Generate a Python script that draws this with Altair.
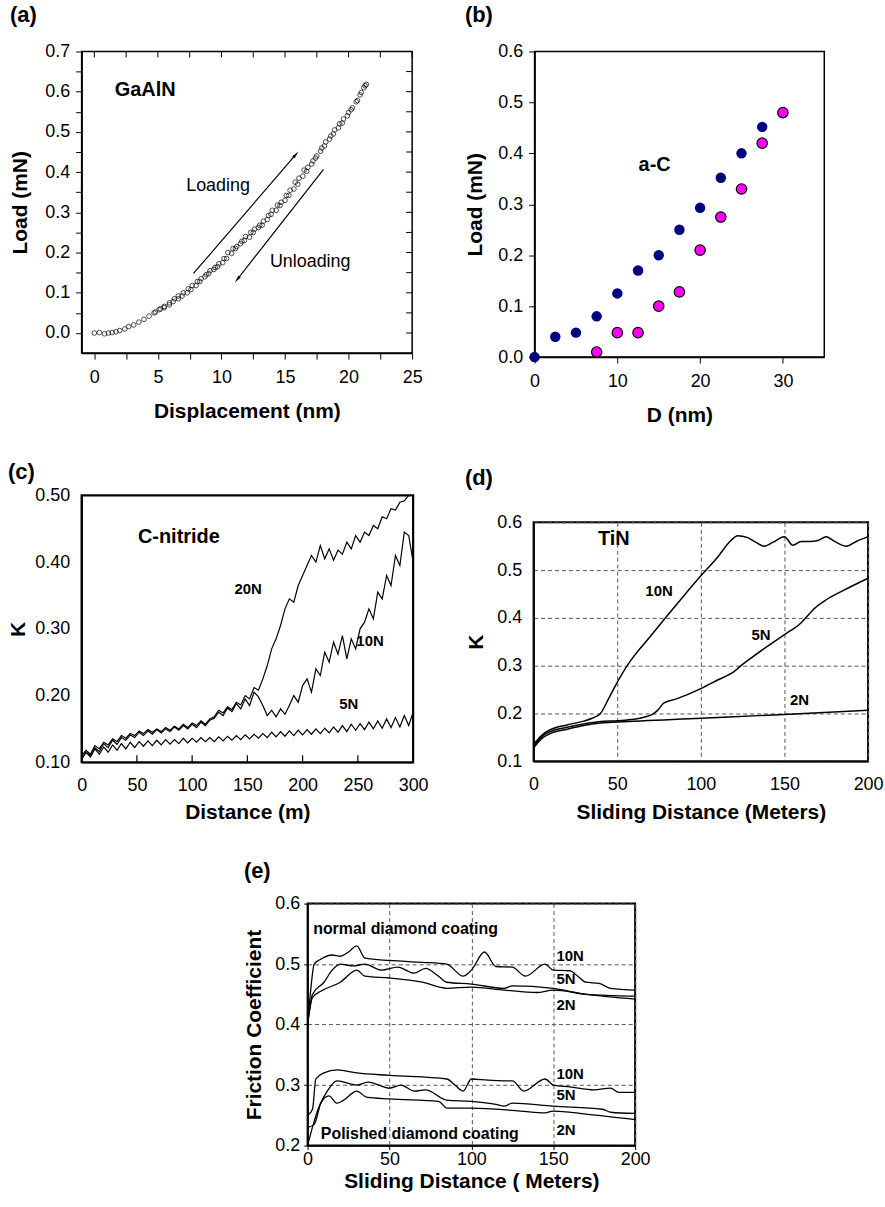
import altair as alt
import pandas as pd

FONT = "Liberation Sans"

# ---------------- (a) GaAlN load-displacement ----------------
A_LOAD_X = [0.0, 0.4, 0.8, 1.1, 1.4, 1.7, 2.0, 2.4, 2.7, 3.1, 3.5, 3.9, 4.3, 4.7, 5.1, 5.5, 5.9, 6.3, 6.6, 7.0,
            7.4, 7.7, 8.1, 8.4, 8.8, 9.1, 9.5, 9.8, 10.2, 10.5, 10.9, 11.2, 11.6, 11.9, 12.3, 12.6, 13.0, 13.3, 13.7, 14.0,
            14.4, 14.7, 15.1, 15.4, 15.8, 16.1, 16.5, 16.8, 17.2, 17.5, 17.9, 18.2, 18.6, 18.9, 19.3, 19.6, 20.0, 20.3, 20.7, 21.0, 21.3]
A_LOAD_Y = [0.000, 0.001, -0.002, 0.000, 0.001, 0.003, 0.006, 0.010, 0.016, 0.020, 0.027, 0.034, 0.042, 0.050, 0.058, 0.066, 0.075, 0.085, 0.092, 0.100,
            0.110, 0.118, 0.128, 0.135, 0.145, 0.155, 0.163, 0.172, 0.185, 0.200, 0.210, 0.215, 0.228, 0.240, 0.250, 0.258, 0.268, 0.278, 0.292, 0.305,
            0.318, 0.325, 0.342, 0.355, 0.375, 0.385, 0.405, 0.412, 0.428, 0.440, 0.460, 0.475, 0.490, 0.505, 0.520, 0.532, 0.548, 0.560, 0.578, 0.598, 0.615]
A_UNLOAD_X = [21.4, 21.2, 20.9, 20.6, 20.2, 19.9, 19.5, 19.2, 18.8, 18.5, 18.1, 17.8, 17.4, 17.1, 16.7, 16.4, 16.0, 15.7, 15.3, 15.0,
              14.6, 14.3, 13.9, 13.6, 13.2, 12.9, 12.5, 12.2, 11.8, 11.5, 11.1, 10.8, 10.4, 10.1, 9.7, 9.4, 9.0, 8.7, 8.3, 8.0,
              7.6, 7.3, 6.9, 6.6, 6.2, 5.9, 5.5, 5.2, 4.8]
A_UNLOAD_Y = [0.618, 0.610, 0.592, 0.575, 0.555, 0.540, 0.522, 0.510, 0.495, 0.482, 0.465, 0.452, 0.435, 0.420, 0.402, 0.390, 0.370, 0.358, 0.342, 0.330,
              0.317, 0.305, 0.295, 0.282, 0.268, 0.262, 0.250, 0.238, 0.230, 0.222, 0.210, 0.198, 0.185, 0.175, 0.165, 0.158, 0.148, 0.140, 0.128, 0.118,
              0.108, 0.100, 0.092, 0.085, 0.078, 0.070, 0.063, 0.060, 0.052]
A_XTICKS = [0, 2.5, 5, 7.5, 10, 12.5, 15, 17.5, 20, 22.5, 25]
A_YTICKS = [0.0, 0.05, 0.1, 0.15, 0.2, 0.25, 0.3, 0.35, 0.4, 0.45, 0.5, 0.55, 0.6, 0.65, 0.7]
A_ARROW_LOAD_X = [7.8, 15.86]
A_ARROW_LOAD_Y = [0.148, 0.444]
A_ARROW_UNLOAD_X = [18.03, 11.24]
A_ARROW_UNLOAD_Y = [0.407, 0.133]
A_BOLD_TEXT = ["GaAlN"]
A_BOLD_X = [4.0]
A_BOLD_Y = [0.604]
A_TEXT = ["Loading", "Unloading"]
A_TEXT_X = [9.73, 16.98]
A_TEXT_Y = [0.366, 0.177]

# ---------------- (b) a-C ----------------
B_BLUE_X = [0, 2.5, 5, 7.5, 10, 12.5, 15, 17.5, 20, 22.5, 25, 27.5]
B_BLUE_Y = [0.0, 0.04, 0.048, 0.08, 0.125, 0.17, 0.2, 0.25, 0.293, 0.352, 0.4, 0.452]
B_PINK_X = [7.5, 10, 12.5, 15, 17.5, 20, 22.5, 25, 27.5, 30]
B_PINK_Y = [0.01, 0.048, 0.048, 0.1, 0.128, 0.21, 0.275, 0.33, 0.42, 0.48]
B_TEXT = ["a-C"]
B_TEXT_X = [14.5]
B_TEXT_Y = [0.377]

# ---------------- (c) C-nitride ----------------
C_X = [0, 4, 8, 12, 16, 20, 24, 28, 32, 36, 40, 44, 48, 52, 56, 60, 64, 68, 72, 76,
       80, 84, 88, 92, 96, 100, 104, 108, 112, 116, 120, 124, 128, 132, 136, 140, 144, 148, 152, 156,
       160, 164, 168, 172, 176, 180, 184, 188, 192, 196, 200, 204, 208, 212, 216, 220, 224, 228, 232, 236,
       240, 244, 248, 252, 256, 260, 264, 268, 272, 276, 280, 284, 288, 292, 296, 300]
C_20N = [0.110, 0.118, 0.112, 0.125, 0.120, 0.130, 0.126, 0.135, 0.131, 0.140,
         0.136, 0.143, 0.140, 0.147, 0.143, 0.149, 0.145, 0.150, 0.146, 0.152,
         0.148, 0.154, 0.150, 0.157, 0.152, 0.159, 0.155, 0.162, 0.157, 0.165,
         0.168, 0.178, 0.174, 0.183, 0.179, 0.190, 0.186, 0.200, 0.195, 0.212,
         0.208, 0.225, 0.245, 0.270, 0.285, 0.305, 0.330, 0.345, 0.340, 0.365,
         0.380, 0.395, 0.410, 0.400, 0.425, 0.405, 0.420, 0.403, 0.418, 0.412,
         0.430, 0.420, 0.440, 0.430, 0.445, 0.440, 0.455, 0.450, 0.468, 0.465,
         0.480, 0.478, 0.490, 0.492, 0.500, 0.508]
C_10N = [0.105, 0.115, 0.110, 0.122, 0.116, 0.128, 0.122, 0.133, 0.127, 0.137,
         0.133, 0.141, 0.137, 0.145, 0.140, 0.147, 0.142, 0.149, 0.144, 0.150,
         0.146, 0.153, 0.148, 0.155, 0.150, 0.157, 0.152, 0.160, 0.155, 0.163,
         0.166, 0.175, 0.170, 0.181, 0.176, 0.188, 0.180, 0.195, 0.185, 0.205,
         0.198, 0.185, 0.170, 0.178, 0.168, 0.180, 0.172, 0.185, 0.200, 0.190,
         0.215, 0.225, 0.205, 0.240, 0.230, 0.265, 0.250, 0.280, 0.262, 0.290,
         0.255, 0.285, 0.270, 0.300, 0.310, 0.330, 0.315, 0.355, 0.345, 0.380,
         0.365, 0.410, 0.395, 0.445, 0.440, 0.400]
C_5N = [0.105, 0.115, 0.108, 0.120, 0.112, 0.123, 0.115, 0.126, 0.118, 0.128,
        0.120, 0.130, 0.122, 0.131, 0.124, 0.132, 0.125, 0.133, 0.126, 0.134,
        0.127, 0.134, 0.128, 0.136, 0.129, 0.136, 0.130, 0.137, 0.131, 0.137,
        0.131, 0.138, 0.132, 0.139, 0.133, 0.140, 0.134, 0.141, 0.135, 0.142,
        0.136, 0.143, 0.137, 0.145, 0.138, 0.146, 0.139, 0.147, 0.140, 0.148,
        0.141, 0.149, 0.142, 0.150, 0.143, 0.151, 0.144, 0.153, 0.145, 0.155,
        0.146, 0.157, 0.148, 0.158, 0.149, 0.160, 0.150, 0.162, 0.151, 0.165,
        0.152, 0.167, 0.153, 0.170, 0.155, 0.175]
C_INNER_TICKS = [50, 100, 150, 200, 250]
C_BOLD_TEXT = ["C-nitride"]
C_BOLD_X = [88]
C_BOLD_Y = [0.438]
C_LOAD_TEXT = ["20N", "10N", "5N"]
C_LOAD_X = [150.7, 261, 241.7]
C_LOAD_Y = [0.36, 0.282, 0.187]

# ---------------- (d) TiN ----------------
D_10N_X = [0, 5, 10, 20, 30, 35, 40, 45, 50, 55, 60, 70, 80, 90, 100, 110, 118, 122, 128, 133,
           138, 143, 150, 155, 160, 165, 170, 175, 180, 187, 193, 200]
D_10N_Y = [0.135, 0.155, 0.166, 0.176, 0.184, 0.19, 0.2, 0.232, 0.265, 0.295, 0.32, 0.362, 0.405, 0.447, 0.488, 0.527, 0.562, 0.572, 0.568, 0.558,
           0.55, 0.558, 0.57, 0.552, 0.56, 0.56, 0.562, 0.57, 0.56, 0.55, 0.56, 0.57]
D_5N_X = [0, 5, 10, 20, 30, 40, 50, 60, 66, 71, 74, 78, 85, 100, 110, 120, 124, 130, 140, 150,
          160, 164, 168, 175, 185, 200]
D_5N_Y = [0.13, 0.152, 0.162, 0.171, 0.178, 0.183, 0.185, 0.188, 0.192, 0.198, 0.206, 0.222, 0.23, 0.252, 0.27, 0.288, 0.30, 0.316, 0.341, 0.365,
          0.39, 0.405, 0.42, 0.438, 0.457, 0.483]
D_2N_X = [0, 5, 10, 20, 30, 40, 50, 100, 150, 200]
D_2N_Y = [0.128, 0.148, 0.158, 0.167, 0.175, 0.18, 0.182, 0.19, 0.198, 0.207]
D_BOLD_TEXT = ["TiN"]
D_BOLD_X = [48]
D_BOLD_Y = [0.565]
D_LOAD_TEXT = ["10N", "5N", "2N"]
D_LOAD_X = [75, 136, 159]
D_LOAD_Y = [0.456, 0.364, 0.228]

# ---------------- (e) diamond coatings ----------------
E_N10_X = [0, 2, 4, 8, 15, 20, 25, 30, 35, 50, 70, 85, 95, 100, 108, 115, 125, 133, 145, 150, 160, 165, 170, 178, 185, 200]
E_N10_Y = [0.40, 0.46, 0.50, 0.508, 0.515, 0.513, 0.52, 0.53, 0.51, 0.506, 0.503, 0.50, 0.48, 0.49, 0.52, 0.496, 0.495, 0.48, 0.50, 0.49, 0.489, 0.48, 0.47, 0.468, 0.46, 0.457]
E_N5_X = [0, 3, 10, 15, 20, 28, 35, 45, 55, 65, 72, 80, 85, 100, 120, 125, 150, 160, 170, 200]
E_N5_Y = [0.40, 0.45, 0.47, 0.49, 0.50, 0.497, 0.50, 0.49, 0.495, 0.485, 0.493, 0.48, 0.47, 0.467, 0.46, 0.464, 0.46, 0.455, 0.45, 0.447]
E_N2_X = [0, 3, 8, 20, 30, 35, 50, 70, 85, 100, 120, 140, 150, 170, 200]
E_N2_Y = [0.40, 0.445, 0.455, 0.47, 0.49, 0.48, 0.477, 0.47, 0.46, 0.462, 0.457, 0.453, 0.457, 0.45, 0.442]
E_P10_X = [0, 3, 5, 10, 18, 30, 50, 85, 90, 95, 100, 110, 120, 125, 132, 145, 150, 160, 175, 185, 190, 200]
E_P10_Y = [0.25, 0.26, 0.31, 0.32, 0.325, 0.32, 0.316, 0.31, 0.30, 0.29, 0.31, 0.308, 0.307, 0.307, 0.29, 0.31, 0.30, 0.297, 0.292, 0.295, 0.288, 0.288]
E_P5_X = [0, 4, 8, 12, 18, 30, 37, 50, 57, 65, 72, 85, 100, 115, 120, 125, 150, 180, 185, 200]
E_P5_Y = [0.23, 0.235, 0.27, 0.29, 0.307, 0.30, 0.305, 0.295, 0.30, 0.29, 0.292, 0.275, 0.273, 0.268, 0.265, 0.27, 0.265, 0.26, 0.255, 0.253]
E_P2_X = [0, 4, 8, 13, 18, 22, 30, 36, 50, 80, 85, 100, 130, 145, 150, 170, 200]
E_P2_Y = [0.20, 0.24, 0.27, 0.282, 0.27, 0.275, 0.29, 0.28, 0.277, 0.273, 0.262, 0.262, 0.257, 0.254, 0.257, 0.252, 0.243]
E_COAT_TEXT = ["normal diamond coating", "Polished diamond coating"]
E_COAT_X = [3.4, 8.1]
E_COAT_Y = [0.558, 0.219]
E_LOAD_TEXT = ["10N", "5N", "2N", "10N", "5N", "2N"]
E_LOAD_X = [152, 152, 152, 152, 152, 152]
E_LOAD_Y = [0.513, 0.476, 0.433, 0.318, 0.284, 0.226]

TRANSPARENT = alt.ViewBackground(stroke="transparent")


def series_df(xs, ys, name):
    return pd.DataFrame({"x": xs, "y": ys, "s": [name] * len(xs)})


def text_layer(xe, ye, texts, xs, ys, size, bold=True, align="center"):
    df = pd.DataFrame({"x": xs, "y": ys, "t": texts})
    return alt.Chart(df).mark_text(font=FONT, fontSize=size, fontWeight="bold" if bold else "normal",
                                   color="black", align=align, baseline="middle").encode(x=xe, y=ye, text="t:N")


def blank(w, h):
    return alt.Chart(pd.DataFrame({"x": [0]})).mark_point(opacity=0).encode(
        x=alt.X("x:Q", axis=None), y=alt.Y("x:Q", axis=None)
    ).properties(width=w, height=h, view=TRANSPARENT)


# ---------- panel (a) ----------
AW, AH = 332, 303
xa = alt.X("x:Q", scale=alt.Scale(domain=[-1, 25], nice=False, zero=False),
           axis=alt.Axis(title="Displacement (nm)", values=A_XTICKS,
                         labelExpr="datum.value % 5 == 0 ? datum.label : ''",
                         tickSize=6, labelPadding=10, titlePadding=14, labelFlush=False))
ya = alt.Y("y:Q", scale=alt.Scale(domain=[-0.05, 0.7], nice=False, zero=False),
           axis=alt.Axis(title="Load (mN)", values=A_YTICKS,
                         labelExpr="round(datum.value * 100) % 10 == 0 ? format(datum.value, '.1f') : ''",
                         tickSize=6, labelPadding=6, titlePadding=14))
a_pts = alt.Chart(pd.concat([series_df(A_LOAD_X, A_LOAD_Y, "load"), series_df(A_UNLOAD_X, A_UNLOAD_Y, "unload")])) \
    .mark_point(shape="circle", filled=False, size=22, color="black", strokeWidth=1).encode(x=xa, y=ya)
a_arr = alt.Chart(pd.concat([series_df(A_ARROW_LOAD_X, A_ARROW_LOAD_Y, "l"), series_df(A_ARROW_UNLOAD_X, A_ARROW_UNLOAD_Y, "u")])) \
    .mark_line(color="black", strokeWidth=1.2).encode(x=xa, y=ya, detail="s:N")
HEAD = "M0,-1L0.4,1L-0.4,1Z"
a_head1 = alt.Chart(series_df(A_ARROW_LOAD_X[1:], A_ARROW_LOAD_Y[1:], "l")).mark_point(
    shape=HEAD, filled=True, color="black", size=60, angle=41, opacity=1).encode(x=xa, y=ya)
a_head2 = alt.Chart(series_df(A_ARROW_UNLOAD_X[1:], A_ARROW_UNLOAD_Y[1:], "u")).mark_point(
    shape=HEAD, filled=True, color="black", size=60, angle=218, opacity=1).encode(x=xa, y=ya)
a_top = alt.Chart(pd.DataFrame({"x": A_XTICKS})).mark_rule(color="black", strokeWidth=1).encode(
    x=xa, y=alt.value(0), y2=alt.value(6))
a_right = alt.Chart(pd.DataFrame({"y": A_YTICKS})).mark_rule(color="black", strokeWidth=1).encode(
    y=ya, x=alt.value(AW - 6), x2=alt.value(AW))
panel_a = alt.layer(
    a_pts, a_arr, a_head1, a_head2, a_top, a_right,
    text_layer(xa, ya, A_BOLD_TEXT, A_BOLD_X, A_BOLD_Y, 20, True),
    text_layer(xa, ya, A_TEXT, A_TEXT_X, A_TEXT_Y, 18, False),
).properties(width=AW, height=AH, title=alt.TitleParams("(a)", offset=16))

# ---------- panel (b) ----------
BW, BH = 291, 307
xb = alt.X("x:Q", scale=alt.Scale(domain=[0, 35], nice=False),
           axis=alt.Axis(title="D (nm)", values=[0, 10, 20, 30], tickSize=6, labelPadding=10,
                         titlePadding=14, labelFlush=False))
yb = alt.Y("y:Q", scale=alt.Scale(domain=[0, 0.6], nice=False),
           axis=alt.Axis(title="Load (mN)", values=[0, 0.1, 0.2, 0.3, 0.4, 0.5, 0.6], format=".1f",
                         tickSize=6, labelPadding=6, titlePadding=12))
b_blue = alt.Chart(series_df(B_BLUE_X, B_BLUE_Y, "blue")).mark_point(
    shape="circle", filled=True, color="#000080", size=110, opacity=1).encode(x=xb, y=yb)
b_pink = alt.Chart(series_df(B_PINK_X, B_PINK_Y, "pink")).mark_point(
    shape="circle", filled=True, fill="#ff00ff", stroke="black", strokeWidth=1.2, size=110, opacity=1).encode(x=xb, y=yb)
panel_b = alt.layer(
    b_blue, b_pink, text_layer(xb, yb, B_TEXT, B_TEXT_X, B_TEXT_Y, 20, True)
).properties(width=BW, height=BH, title=alt.TitleParams("(b)", offset=16))

# ---------- panel (c) ----------
CW, CH = 333, 268
xc = alt.X("x:Q", scale=alt.Scale(domain=[0, 300], nice=False),
           axis=alt.Axis(title="Distance (m)", values=[0, 50, 100, 150, 200, 250, 300], ticks=False,
                         labelPadding=14, titlePadding=8, labelFlush=False))
yc = alt.Y("y:Q", scale=alt.Scale(domain=[0.1, 0.5], nice=False, zero=False),
           axis=alt.Axis(title="K", values=[0.1, 0.2, 0.3, 0.4, 0.5], format=".2f", ticks=False,
                         labelPadding=12, titlePadding=6))
c_lines = alt.Chart(pd.concat([series_df(C_X, C_20N, "20N"), series_df(C_X, C_10N, "10N"), series_df(C_X, C_5N, "5N")])) \
    .mark_line(color="black", strokeWidth=1.2, clip=True).encode(x=xc, y=yc, detail="s:N")
c_ticks = alt.Chart(pd.DataFrame({"x": C_INNER_TICKS})).mark_rule(color="black", strokeWidth=1.2).encode(
    x=xc, y=alt.value(CH), y2=alt.value(CH - 7))
panel_c = alt.layer(
    c_lines, c_ticks,
    text_layer(xc, yc, C_BOLD_TEXT, C_BOLD_X, C_BOLD_Y, 20, True),
    text_layer(xc, yc, C_LOAD_TEXT, C_LOAD_X, C_LOAD_Y, 15, True),
).properties(width=CW, height=CH, title=alt.TitleParams("(c)", offset=3),
             view=alt.ViewBackground(stroke="black", strokeWidth=2.2))

# ---------- panel (d) ----------
DW, DH = 336, 240
GRID = dict(grid=True, gridDash=[4, 3], gridColor="#555555", gridWidth=1)
xd = alt.X("x:Q", scale=alt.Scale(domain=[0, 200], nice=False),
           axis=alt.Axis(title="Sliding Distance (Meters)", values=[0, 50, 100, 150, 200], ticks=False,
                         labelPadding=14, titlePadding=8, labelFlush=False, **GRID))
yd = alt.Y("y:Q", scale=alt.Scale(domain=[0.1, 0.6], nice=False, zero=False),
           axis=alt.Axis(title="K", values=[0.1, 0.2, 0.3, 0.4, 0.5, 0.6], format=".1f", ticks=False,
                         labelPadding=12, titlePadding=10, **GRID))
d_lines = alt.Chart(pd.concat([series_df(D_10N_X, D_10N_Y, "10N"), series_df(D_5N_X, D_5N_Y, "5N"), series_df(D_2N_X, D_2N_Y, "2N")])) \
    .mark_line(color="black", strokeWidth=1.5, interpolate="monotone").encode(x=xd, y=yd, detail="s:N")
panel_d = alt.layer(
    d_lines,
    text_layer(xd, yd, D_BOLD_TEXT, D_BOLD_X, D_BOLD_Y, 20, True),
    text_layer(xd, yd, D_LOAD_TEXT, D_LOAD_X, D_LOAD_Y, 15, True),
).properties(width=DW, height=DH, view=alt.ViewBackground(stroke="black", strokeWidth=2))
d_col = alt.vconcat(blank(DW, 1), panel_d, spacing=13, title=alt.TitleParams("(d)", offset=3))

# ---------- panel (e) ----------
EW, EH = 329, 243
xe = alt.X("x:Q", scale=alt.Scale(domain=[0, 200], nice=False),
           axis=alt.Axis(title="Sliding Distance ( Meters)", values=[0, 50, 100, 150, 200], tickSize=4,
                         labelPadding=1, titlePadding=2, labelFlush=False, **GRID))
ye = alt.Y("y:Q", scale=alt.Scale(domain=[0.2, 0.6], nice=False, zero=False),
           axis=alt.Axis(title="Friction Coefficient", values=[0.2, 0.3, 0.4, 0.5, 0.6], format=".1f", tickSize=4,
                         labelPadding=4, titlePadding=10, **GRID))
e_lines = alt.Chart(pd.concat([
    series_df(E_N10_X, E_N10_Y, "n10"), series_df(E_N5_X, E_N5_Y, "n5"), series_df(E_N2_X, E_N2_Y, "n2"),
    series_df(E_P10_X, E_P10_Y, "p10"), series_df(E_P5_X, E_P5_Y, "p5"), series_df(E_P2_X, E_P2_Y, "p2")])) \
    .mark_line(color="black", strokeWidth=1.3, interpolate="monotone").encode(x=xe, y=ye, detail="s:N")
panel_e = alt.layer(
    e_lines,
    text_layer(xe, ye, E_COAT_TEXT, E_COAT_X, E_COAT_Y, 16, True, align="left"),
    text_layer(xe, ye, E_LOAD_TEXT, E_LOAD_X, E_LOAD_Y, 15, True, align="left"),
).properties(width=EW, height=EH, title=alt.TitleParams("(e)", offset=12),
             view=alt.ViewBackground(stroke="black", strokeWidth=2))

row1 = alt.hconcat(panel_a, panel_b, spacing=41)
row2 = alt.hconcat(panel_c, d_col, spacing=34)
row3 = alt.hconcat(blank(160, 1), panel_e, spacing=0)

top = alt.vconcat(row1, row2, spacing=32)
chart = alt.vconcat(top, row3, spacing=34).properties(
    padding={"left": 6, "top": 0, "right": 0, "bottom": 0}
).configure_view(stroke="black", strokeWidth=1.5).configure_axis(
    labelFont=FONT, labelFontSize=18, labelColor="black",
    titleFont=FONT, titleFontSize=21, titleFontWeight="bold", titleColor="black",
    domainColor="black", domainWidth=1.5, tickColor="black", tickWidth=1, grid=False,
    labelOverlap=False
).configure_title(font=FONT, fontSize=22, fontWeight="bold", anchor="start", frame="bounds", color="black")

chart.save("out.html", embed_options={"renderer": "svg", "actions": False})
